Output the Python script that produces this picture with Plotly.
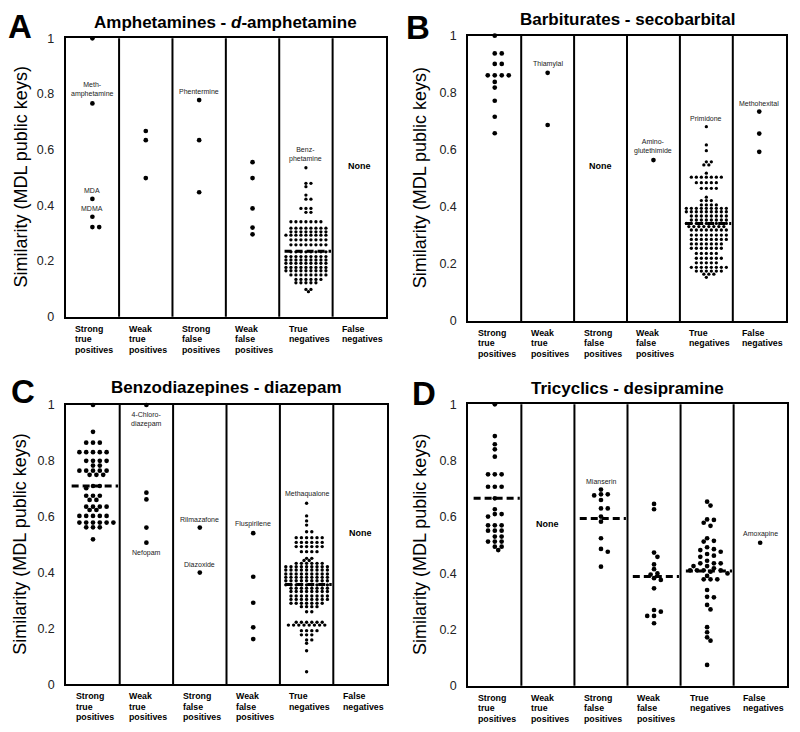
import plotly.graph_objects as go

W, H = 800, 732          # browser window
PAGE_MARGIN = 8          # default body margin of the html page
FW, FH = W - 2 * PAGE_MARGIN, H - 2 * PAGE_MARGIN

CATEGORIES = [["Strong", "true", "positives"], ["Weak", "true", "positives"],
              ["Strong", "false", "positives"], ["Weak", "false", "positives"],
              ["True", "negatives"], ["False", "negatives"]]
Y_TICKS = [0, 0.2, 0.4, 0.6, 0.8, 1]
Y_TICK_TEXT = ["0", "0.2", "0.4", "0.6", "0.8", "1"]
Y_TITLE = "Similarity (MDL public keys)"

# ---------------- Panel A ----------------
A_TITLE = "Amphetamines - <i>d</i>-amphetamine"
A_STRONG_TP = [1.0, 0.766, 0.423, 0.359, 0.322, 0.322]
A_WEAK_TP = [0.667, 0.634, 0.498]
A_STRONG_FP = [0.778, 0.634, 0.447]
A_WEAK_FP = [0.555, 0.498, 0.389, 0.320, 0.296]
A_TN_LEVELS = [0.535, 0.479, 0.467, 0.437, 0.422, 0.389, 0.375, 0.341, 0.318, 0.305, 0.293,
               0.276, 0.258, 0.233, 0.216, 0.204, 0.192, 0.177, 0.165, 0.150, 0.134, 0.122,
               0.098, 0.090]
A_TN_COUNTS = [1, 2, 1, 1, 2, 3, 2, 7, 8, 8, 9, 8, 8, 8, 9, 9, 9, 9, 9, 8, 6, 5, 2, 1]
A_FN = []
A_MEDIANS = [None, None, None, None, 0.235, None]
A_LABELS = [(0, 0.766, "Meth-<br>amphetamine", "above"), (0, 0.423, "MDA", "above"),
            (0, 0.359, "MDMA", "above"), (2, 0.778, "Phentermine", "above"),
            (4, 0.535, "Benz-<br>phetamine", "above")]

# ---------------- Panel B ----------------
B_TITLE = "Barbiturates - secobarbital"
B_STRONG_TP = [1.0, 0.938, 0.938, 0.901, 0.901, 0.861, 0.861, 0.861, 0.861, 0.838,
               0.818, 0.772, 0.716, 0.658]
B_WEAK_TP = [0.870, 0.687]
B_STRONG_FP = []
B_WEAK_FP = [0.564]
B_TN_LEVELS = [0.681, 0.617, 0.597, 0.558, 0.547, 0.518, 0.504, 0.485, 0.465, 0.434, 0.422,
               0.407, 0.395, 0.383, 0.368, 0.354, 0.342, 0.331, 0.319, 0.301, 0.286, 0.270,
               0.255, 0.237, 0.220, 0.204, 0.188, 0.175, 0.164, 0.153]
B_TN_COUNTS = [1, 1, 1, 2, 2, 1, 7, 5, 4, 1, 3, 4, 9, 9, 8, 8, 9, 8, 8, 8, 8, 7, 7, 5, 6, 5,
               8, 6, 3, 1]
B_FN = [0.734, 0.657, 0.593]
B_MEDIANS = [None, None, None, None, 0.342, None]
B_LABELS = [(1, 0.870, "Thiamylal", "above"), (3, 0.564, "Amino-<br>glutethimide", "above"),
            (4, 0.681, "Primidone", "above"), (5, 0.734, "Methohexital", "above")]

# ---------------- Panel C ----------------
C_TITLE = "Benzodiazepines - diazepam"
C_STP_LEVELS = [1.0, 0.904, 0.865, 0.831, 0.800, 0.783, 0.765, 0.750, 0.710, 0.702, 0.675,
                0.660, 0.636, 0.624, 0.603, 0.579, 0.562, 0.519]
C_STP_COUNTS = [1, 1, 3, 5, 4, 2, 5, 3, 2, 1, 3, 2, 4, 2, 5, 6, 3, 1]
C_WEAK_TP = [1.0, 0.686, 0.662, 0.561, 0.507]
C_STRONG_FP = [0.561, 0.400]
C_WEAK_FP = [0.541, 0.385, 0.292, 0.204, 0.162]
C_TN_LEVELS = [0.648, 0.603, 0.585, 0.570, 0.546, 0.525, 0.508, 0.493, 0.475, 0.451, 0.443,
               0.433, 0.421, 0.409, 0.395, 0.383, 0.371, 0.356, 0.344, 0.332, 0.316, 0.304,
               0.290, 0.278, 0.260, 0.222, 0.212, 0.192, 0.177, 0.159, 0.147, 0.120,
               0.045]
C_TN_COUNTS = [1, 1, 1, 1, 2, 6, 6, 6, 4, 2, 2, 6, 9, 9, 9, 9, 9, 9, 8, 8, 8, 8, 7, 4, 2, 6,
               8, 4, 3, 2, 1, 1, 1]
C_FN = []
C_MEDIANS = [0.710, None, None, None, 0.357, None]
C_LABELS = [(1, 1.0, "4-Chloro-<br>diazepam", "below"), (1, 0.507, "Nefopam", "below"),
            (2, 0.561, "Rilmazafone", "above"), (2, 0.400, "Diazoxide", "above"),
            (3, 0.541, "Fluspirilene", "above"), (4, 0.648, "Methaqualone", "above")]

# ---------------- Panel D ----------------
D_TITLE = "Tricyclics - desipramine"
D_STRONG_TP = [1.0, 0.887, 0.858, 0.840, 0.814, 0.751, 0.751, 0.751, 0.707, 0.707, 0.707,
               0.666, 0.627, 0.610, 0.610, 0.601, 0.570, 0.570, 0.570, 0.551, 0.551, 0.551,
               0.530, 0.530, 0.512, 0.512, 0.512, 0.494, 0.494, 0.482]
D_WEAK_TP = []
D_STRONG_FP = [0.697, 0.680, 0.676, 0.680, 0.660, 0.630, 0.630, 0.601, 0.583, 0.524, 0.486,
               0.476, 0.423]
D_WEAK_FP = [0.646, 0.627, 0.473, 0.458, 0.431, 0.414, 0.399, 0.395, 0.382, 0.376, 0.346,
             0.269, 0.263, 0.248, 0.248, 0.222]
D_TN = [0.654, 0.640, 0.591, 0.589, 0.579, 0.568, 0.524, 0.515, 0.512, 0.492, 0.485, 0.482,
        0.476, 0.468, 0.462, 0.458, 0.444, 0.435, 0.435, 0.435, 0.425, 0.425, 0.417, 0.410,
        0.410, 0.410, 0.410, 0.405, 0.399, 0.390, 0.378, 0.378, 0.378, 0.340, 0.316, 0.314,
        0.287, 0.271, 0.208, 0.190, 0.172, 0.160, 0.074]
D_FN = [0.508]
D_MEDIANS = [0.666, None, 0.594, 0.388, 0.408, None]
D_LABELS = [(2, 0.697, "Mianserin", "above"), (5, 0.508, "Amoxapine", "above")]


def expand(levels, counts):
    out = []
    for v, c in zip(levels, counts):
        out += [v] * c
    return out


# style per column kind: (marker size px, horizontal step px, collision px)
SPARSE = (4.7, 6.8, 4.7)
DENSE = (3.3, 5.0, 3.2)

PANELS = [
    dict(letter="A", title=A_TITLE, box=(65.7, 38.3, 386.0, 316.7),
         cols=[A_STRONG_TP, A_WEAK_TP, A_STRONG_FP, A_WEAK_FP,
               expand(A_TN_LEVELS, A_TN_COUNTS), A_FN],
         styles=[SPARSE, SPARSE, SPARSE, SPARSE, DENSE, SPARSE],
         medians=A_MEDIANS, labels=A_LABELS, none_y=165.7,
         letter_xy=(20, 26), title_y=23, ytitle_x=20),
    dict(letter="B", title=B_TITLE, box=(468.3, 35.7, 785.7, 321.0),
         cols=[B_STRONG_TP, B_WEAK_TP, B_STRONG_FP, B_WEAK_FP,
               expand(B_TN_LEVELS, B_TN_COUNTS), B_FN],
         styles=[(4.7, 7.0, 5.5), SPARSE, SPARSE, SPARSE, DENSE, SPARSE],
         medians=B_MEDIANS, labels=B_LABELS, none_y=165.7,
         letter_xy=(418, 27), title_y=19, ytitle_x=420),
    dict(letter="C", title=C_TITLE, box=(66.3, 405.0, 386.7, 684.3),
         cols=[expand(C_STP_LEVELS, C_STP_COUNTS), C_WEAK_TP, C_STRONG_FP, C_WEAK_FP,
               expand(C_TN_LEVELS, C_TN_COUNTS), C_FN],
         styles=[SPARSE, SPARSE, SPARSE, SPARSE, (3.4, 5.2, 3.2), SPARSE],
         medians=C_MEDIANS, labels=C_LABELS, none_y=532.7,
         letter_xy=(23, 391), title_y=387, ytitle_x=20),
    dict(letter="D", title=D_TITLE, box=(468.3, 404.3, 786.7, 685.7),
         cols=[D_STRONG_TP, D_WEAK_TP, D_STRONG_FP, D_WEAK_FP, D_TN, D_FN],
         styles=[SPARSE, SPARSE, SPARSE, SPARSE, SPARSE, SPARSE],
         medians=D_MEDIANS, labels=D_LABELS, none_y=524.0,
         letter_xy=(424, 393), title_y=389, ytitle_x=420),
]


def px_x(px):
    return (px - PAGE_MARGIN) / FW


def px_y(py):
    return 1 - (py - PAGE_MARGIN) / FH


def swarm(values, step, coll, ppu):
    """Greedy beeswarm: horizontal offsets (px), placed from the top value down."""
    order = sorted(range(len(values)), key=lambda i: -values[i])
    cands = [0.0]
    for k in range(1, 21):
        cands += [k * step / 2, -k * step / 2]
    placed = []
    offs = [0.0] * len(values)
    for i in order:
        y = values[i] * ppu
        chosen = cands[-1]
        for c in cands:
            ok = True
            for px, py in placed:
                dx, dy = c - px, y - py
                if dy == 0:
                    if abs(dx) < step - 1e-6:
                        ok = False
                        break
                elif dx * dx + dy * dy < coll * coll - 1e-6:
                    ok = False
                    break
            if ok:
                chosen = c
                break
        placed.append((chosen, y))
        offs[i] = chosen
    return offs


FONT = "Liberation Sans, Arial, sans-serif"
fig = go.Figure()
layout = dict(width=FW, height=FH, margin=dict(l=0, r=0, t=0, b=0),
              paper_bgcolor="white", plot_bgcolor="white", showlegend=False,
              font=dict(family=FONT, color="black"))
annotations = []
shapes = []

for k, p in enumerate(PANELS, start=1):
    x0, y0, x1, y1 = p["box"]
    xs = "" if k == 1 else str(k)
    xref, yref = "x" + xs, "y" + xs
    col_px = (x1 - x0) / 6.0
    ppu = (y1 - y0)
    layout["xaxis" + xs] = dict(domain=[px_x(x0), px_x(x1)], range=[0, 6], anchor=yref,
                                showgrid=False, zeroline=False, showticklabels=False,
                                ticks="", showline=True, mirror=True, linecolor="black",
                                linewidth=2, fixedrange=True, automargin=False)
    layout["yaxis" + xs] = dict(domain=[px_y(y1), px_y(y0)], range=[0, 1], anchor=xref,
                                showgrid=False, zeroline=False, tickvals=Y_TICKS,
                                ticktext=Y_TICK_TEXT, ticks="", ticklabelstandoff=7,
                                tickfont=dict(size=12.5, color="#222"),
                                showline=True, mirror=True, linecolor="black",
                                linewidth=2, fixedrange=True, automargin=False)
    # column dividers
    for i in range(1, 6):
        shapes.append(dict(type="line", xref=xref, yref=yref + " domain", x0=i, x1=i,
                           y0=0, y1=1, line=dict(color="black", width=2)))
    # dots
    for ci, (vals, st) in enumerate(zip(p["cols"], p["styles"])):
        if not vals:
            annotations.append(dict(xref=xref, yref="paper", x=ci + 0.5,
                                    y=px_y(p["none_y"]), text="<b>None</b>",
                                    showarrow=False, xanchor="center", yanchor="middle",
                                    font=dict(size=9, family=FONT, color="black")))
            continue
        size, step, coll = st
        offs = swarm(vals, step, coll, ppu)
        fig.add_trace(go.Scatter(x=[ci + 0.5 + o / col_px for o in offs], y=vals,
                                 mode="markers", xaxis=xref, yaxis=yref, cliponaxis=False,
                                 marker=dict(color="black", size=size, line=dict(width=0)),
                                 hoverinfo="y"))
    # median lines
    for ci, m in enumerate(p["medians"]):
        if m is None:
            continue
        fig.add_trace(go.Scatter(x=[ci + 0.1, ci + 0.97], y=[m, m], mode="lines",
                                 xaxis=xref, yaxis=yref, cliponaxis=False,
                                 line=dict(color="black", width=3, dash="7px,4px"),
                                 hoverinfo="skip"))
    # drug labels
    for ci, v, txt, pos in p["labels"]:
        annotations.append(dict(xref=xref, yref=yref, x=ci + 0.5, y=v, text=txt,
                                showarrow=False, yanchor="bottom" if pos == "above" else "top",
                                yshift=3 if pos == "above" else -4,
                                font=dict(size=7, family=FONT, color="#222")))
    # category labels, one annotation per line
    for ci, lines in enumerate(CATEGORIES):
        for li, word in enumerate(lines):
            annotations.append(dict(xref=xref, yref="paper", x=ci + 0.14,
                                    y=px_y(y1 + 11.8 + 10.6 * li),
                                    xanchor="left", yanchor="middle",
                                    text="<b>" + word + "</b>", showarrow=False,
                                    font=dict(size=8.8, family=FONT, color="black")))
    # panel title
    annotations.append(dict(xref="paper", yref="paper", x=px_x((x0 + x1) / 2),
                            y=px_y(p["title_y"]), text="<b>" + p["title"] + "</b>",
                            showarrow=False, xanchor="center", yanchor="middle",
                            font=dict(size=17, family=FONT, color="black")))
    # panel letter
    lx, ly = p["letter_xy"]
    annotations.append(dict(xref="paper", yref="paper", x=px_x(lx), y=px_y(ly),
                            text="<b>" + p["letter"] + "</b>", showarrow=False,
                            xanchor="center", yanchor="middle",
                            font=dict(size=33, family=FONT, color="black")))
    # y-axis title
    annotations.append(dict(xref="paper", yref="paper", x=px_x(p["ytitle_x"]),
                            y=px_y((y0 + y1) / 2), text=Y_TITLE, textangle=-90,
                            showarrow=False, xanchor="center", yanchor="middle",
                            font=dict(size=18, family=FONT, color="black")))

layout["annotations"] = annotations
layout["shapes"] = shapes
fig.update_layout(**layout)
fig.write_html("out.html")
